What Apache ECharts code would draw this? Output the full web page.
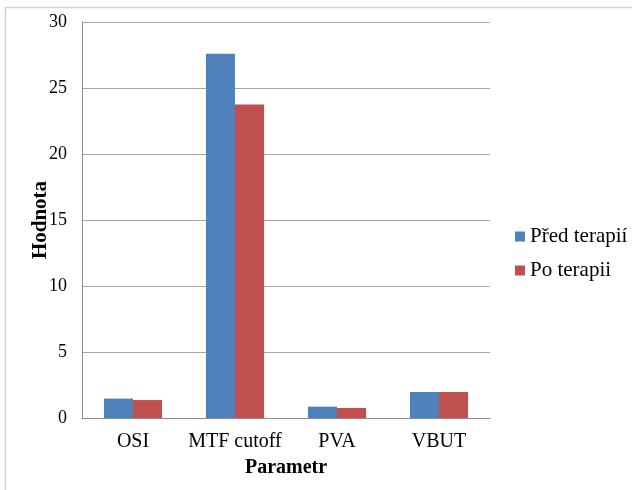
<!DOCTYPE html>
<html>
<head>
<meta charset="utf-8">
<script src="https://cdn.jsdelivr.net/npm/echarts@6/dist/echarts.min.js"></script>
<style>
  html, body { margin: 0; padding: 0; background: #fff; }
  #chart { width: 632px; height: 490px; }
</style>
</head>
<body>
<div id="chart"></div>
<script>
var categories = ['OSI', 'MTF cutoff', 'PVA', 'VBUT']
var predTerapii = [1.47, 27.6, 0.86, 1.97]
var poTerapii = [1.36, 23.75, 0.76, 1.97]
var seriesNames = ['Před terapií', 'Po terapii']

var font = '"Liberation Serif", serif'
var chart = echarts.init(document.getElementById('chart'))

chart.setOption({
  animation: false,
  textStyle: { fontFamily: font, color: '#000' },
  graphic: [
    // outer chart frame
    { type: 'line', shape: { x1: 5, y1: 7.5, x2: 632, y2: 7.5 }, style: { stroke: '#d4d4d4', lineWidth: 1.5 } },
    { type: 'line', shape: { x1: 5.5, y1: 7, x2: 5.5, y2: 490 }, style: { stroke: '#d4d4d4', lineWidth: 1.5 } }
  ],
  grid: {
    left: 82,
    right: 142,
    top: 22,
    bottom: 72,
    containLabel: false
  },
  legend: {
    orient: 'vertical',
    left: 510,
    top: 221,
    itemWidth: 10,
    itemHeight: 10,
    itemGap: 13,
    icon: 'rect',
    data: seriesNames,
    textStyle: { fontFamily: font, fontSize: 21, color: '#000', padding: [0, 0, 0, 0] }
  },
  xAxis: {
    type: 'category',
    data: categories,
    name: 'Parametr',
    nameLocation: 'middle',
    nameGap: 40,
    nameMoveOverlap: false,
    nameTextStyle: { fontFamily: font, fontSize: 20, fontWeight: 'bold', color: '#000' },
    axisTick: { show: false },
    axisLine: { lineStyle: { color: '#8c8c8c', width: 1 } },
    axisLabel: { fontFamily: font, fontSize: 20, color: '#000', margin: 14, interval: 0 }
  },
  yAxis: {
    type: 'value',
    min: 0,
    max: 30,
    interval: 5,
    name: 'Hodnota',
    nameLocation: 'middle',
    nameRotate: 90,
    nameGap: 31,
    nameMoveOverlap: false,
    nameTextStyle: { fontFamily: font, fontSize: 21, fontWeight: 'bold', color: '#000' },
    axisLine: { show: true, lineStyle: { color: '#8c8c8c', width: 1 } },
    axisTick: { show: false },
    axisLabel: { fontFamily: font, fontSize: 18, color: '#000', margin: 15 },
    splitLine: { lineStyle: { color: '#a6a6a6', width: 1 } }
  },
  series: [
    {
      name: seriesNames[0],
      type: 'bar',
      data: predTerapii,
      barGap: '0%',
      barCategoryGap: '43%',
      itemStyle: { color: '#4F81BD' }
    },
    {
      name: seriesNames[1],
      type: 'bar',
      data: poTerapii,
      itemStyle: { color: '#C0504D' }
    }
  ]
})
</script>
</body>
</html>
